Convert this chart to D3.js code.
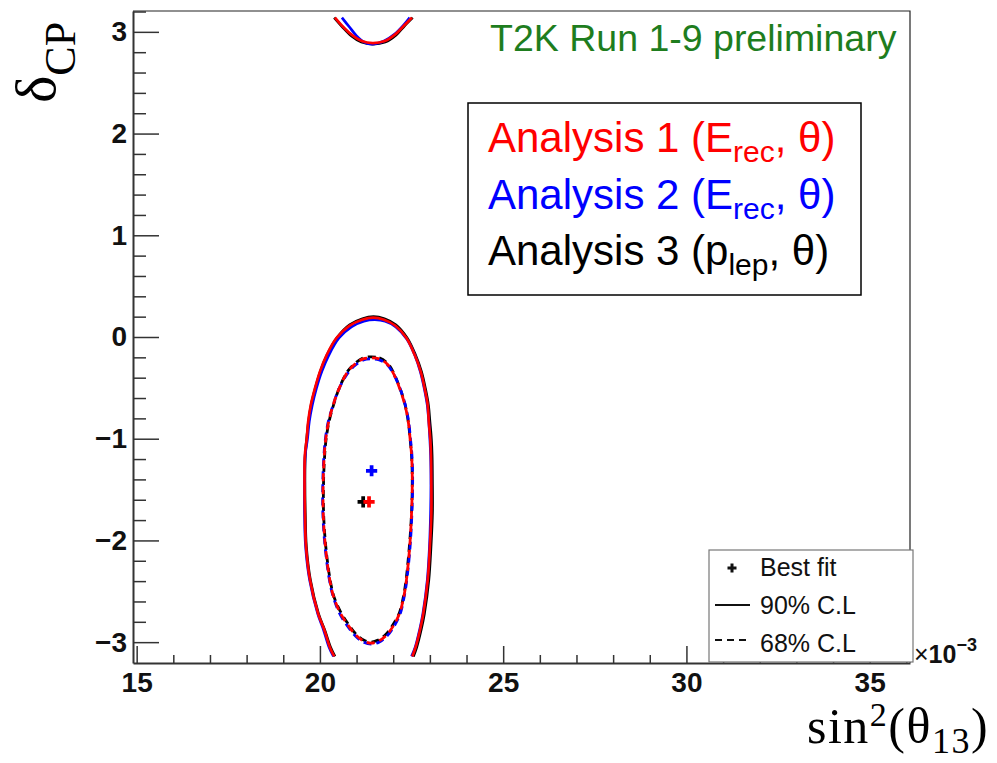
<!DOCTYPE html>
<html>
<head>
<meta charset="utf-8">
<script src="https://cdn.jsdelivr.net/npm/d3@7"></script>
<style>
  body { margin: 0; background: #fff; }
  svg { display: block; }
</style>
</head>
<body>
<div id="chart"></div>
<script>
// axis ranges (sin^2 theta13 in units of 1e-3, delta_CP in rad)
const xDomain = [14.9, 36.1];
const yDomain = [-3.205, 3.205];
const xMajor = [15, 20, 25, 30, 35];
const yMajor = [-3, -2, -1, 0, 1, 2, 3];

const analyses = ['Analysis 3', 'Analysis 2', 'Analysis 1']; // drawing order
const colors = { 'Analysis 1': '#ff0000', 'Analysis 2': '#0000ff', 'Analysis 3': '#000000' };

// 90% C.L. contours, main piece (open at delta = -pi)
const a1Outer = [[20.39,-3.14],[20.27,-3.05],[20.12,-2.88],[19.95,-2.72],[19.73,-2.39],[19.62,-2.06],[19.59,-1.73],[19.58,-1.40],[19.59,-1.16],[19.64,-1.00],[19.68,-0.83],[19.75,-0.67],[19.86,-0.51],[20.00,-0.34],[20.18,-0.18],[20.45,-0.01],[20.80,0.11],[21.15,0.17],[21.45,0.19],[21.75,0.17],[22.06,0.11],[22.36,-0.01],[22.59,-0.18],[22.75,-0.34],[22.86,-0.51],[22.94,-0.67],[22.97,-0.83],[23.01,-1.00],[23.03,-1.16],[23.04,-1.46],[23.04,-1.73],[23.00,-2.06],[22.94,-2.39],[22.82,-2.72],[22.73,-2.88],[22.61,-3.05],[22.52,-3.14]];
const a2Outer = [[20.37,-3.14],[20.25,-3.05],[20.10,-2.88],[19.94,-2.72],[19.72,-2.39],[19.61,-2.06],[19.58,-1.73],[19.58,-1.40],[19.60,-1.16],[19.66,-1.00],[19.71,-0.83],[19.79,-0.67],[19.90,-0.51],[20.05,-0.34],[20.24,-0.18],[20.52,-0.01],[20.86,0.10],[21.20,0.155],[21.50,0.17],[21.78,0.155],[22.07,0.10],[22.37,-0.02],[22.59,-0.18],[22.74,-0.34],[22.85,-0.51],[22.93,-0.67],[22.97,-0.83],[23.00,-1.00],[23.02,-1.16],[23.03,-1.46],[23.02,-1.73],[22.99,-2.06],[22.93,-2.39],[22.81,-2.72],[22.72,-2.88],[22.60,-3.05],[22.50,-3.14]];
const a3Outer = [[20.41,-3.14],[20.29,-3.05],[20.13,-2.88],[19.96,-2.72],[19.74,-2.39],[19.63,-2.06],[19.60,-1.73],[19.59,-1.40],[19.60,-1.16],[19.64,-1.00],[19.69,-0.83],[19.76,-0.67],[19.87,-0.51],[20.01,-0.34],[20.19,-0.18],[20.46,-0.01],[20.81,0.12],[21.16,0.18],[21.46,0.20],[21.76,0.18],[22.07,0.12],[22.38,-0.01],[22.61,-0.18],[22.77,-0.34],[22.88,-0.51],[22.96,-0.67],[23.00,-0.83],[23.04,-1.00],[23.06,-1.16],[23.07,-1.46],[23.07,-1.73],[23.03,-2.06],[22.97,-2.39],[22.85,-2.72],[22.76,-2.88],[22.64,-3.05],[22.55,-3.14]];

// 90% C.L. contours, piece wrapped around to delta = +pi
const a1Wrap = [[20.41,3.14],[20.63,3.05],[20.87,2.97],[21.14,2.91],[21.44,2.89],[21.77,2.91],[22.07,2.98],[22.29,3.06],[22.51,3.14]];
const a2Wrap = [[20.60,3.14],[20.80,3.05],[21.00,2.96],[21.20,2.90],[21.42,2.88],[21.75,2.91],[22.05,2.98],[22.27,3.06],[22.45,3.14]];
const a3Wrap = [[20.39,3.14],[20.61,3.05],[20.86,2.96],[21.13,2.90],[21.44,2.88],[21.78,2.90],[22.08,2.97],[22.31,3.06],[22.53,3.14]];

// 68% C.L. contours (closed)
const a1Inner = [[21.40,-0.205],[21.62,-0.215],[21.82,-0.26],[21.98,-0.34],[22.18,-0.51],[22.32,-0.67],[22.41,-0.83],[22.46,-1.00],[22.50,-1.16],[22.52,-1.39],[22.50,-1.73],[22.45,-2.06],[22.36,-2.39],[22.29,-2.55],[22.18,-2.71],[22.02,-2.83],[21.82,-2.93],[21.60,-2.99],[21.40,-3.01],[21.20,-2.99],[20.98,-2.93],[20.76,-2.83],[20.55,-2.71],[20.37,-2.55],[20.27,-2.39],[20.15,-2.06],[20.09,-1.73],[20.09,-1.41],[20.12,-1.16],[20.16,-1.00],[20.24,-0.83],[20.36,-0.67],[20.52,-0.51],[20.76,-0.34],[20.98,-0.26],[21.18,-0.215]];
const a2Inner = [[21.40,-0.215],[21.62,-0.225],[21.83,-0.27],[21.99,-0.35],[22.19,-0.51],[22.33,-0.67],[22.42,-0.83],[22.47,-1.00],[22.51,-1.16],[22.53,-1.39],[22.51,-1.73],[22.46,-2.06],[22.37,-2.39],[22.30,-2.55],[22.19,-2.72],[22.03,-2.84],[21.83,-2.94],[21.61,-3.00],[21.40,-3.02],[21.19,-3.00],[20.97,-2.94],[20.75,-2.84],[20.54,-2.72],[20.36,-2.55],[20.26,-2.39],[20.14,-2.06],[20.08,-1.73],[20.08,-1.41],[20.11,-1.16],[20.15,-1.00],[20.23,-0.83],[20.36,-0.67],[20.52,-0.51],[20.77,-0.35],[20.99,-0.27],[21.19,-0.225]];
const a3Inner = [[21.40,-0.195],[21.62,-0.205],[21.82,-0.25],[21.98,-0.33],[22.18,-0.50],[22.32,-0.66],[22.41,-0.83],[22.46,-1.00],[22.50,-1.16],[22.52,-1.40],[22.50,-1.73],[22.44,-2.06],[22.35,-2.39],[22.28,-2.55],[22.17,-2.71],[22.01,-2.82],[21.81,-2.92],[21.59,-2.98],[21.39,-3.00],[21.19,-2.98],[20.98,-2.92],[20.77,-2.82],[20.56,-2.70],[20.38,-2.55],[20.28,-2.39],[20.16,-2.06],[20.10,-1.73],[20.10,-1.41],[20.13,-1.16],[20.17,-1.00],[20.25,-0.83],[20.37,-0.67],[20.53,-0.50],[20.77,-0.33],[20.99,-0.25],[21.19,-0.205]];

// best fit points
const bestFit = [
  { name: 'Analysis 3', x: 21.18, y: -1.62 },
  { name: 'Analysis 2', x: 21.41, y: -1.315 },
  { name: 'Analysis 1', x: 21.34, y: -1.62 }
];

const contours = {
  'Analysis 1': { outer: a1Outer, wrap: a1Wrap, inner: a1Inner },
  'Analysis 2': { outer: a2Outer, wrap: a2Wrap, inner: a2Inner },
  'Analysis 3': { outer: a3Outer, wrap: a3Wrap, inner: a3Inner }
};

const width = 997, height = 763;
const plot = { left: 133, right: 910, top: 11, bottom: 663 };

const svg = d3.select('#chart').append('svg')
  .attr('width', width)
  .attr('height', height);

const x = d3.scaleLinear().domain(xDomain).range([plot.left, plot.right]);
const y = d3.scaleLinear().domain(yDomain).range([plot.bottom, plot.top]);

// frame (top and right)
svg.append('path')
  .attr('d', `M${plot.left},${plot.top}H${plot.right}V${plot.bottom}`)
  .attr('fill', 'none')
  .attr('stroke', '#222')
  .attr('stroke-width', 1.2);

// contours
const line = d3.line().x(d => x(d[0])).y(d => y(d[1])).curve(d3.curveCatmullRom);
const closedLine = d3.line().x(d => x(d[0])).y(d => y(d[1])).curve(d3.curveCatmullRomClosed);

const gc = svg.append('g');
analyses.forEach((name, i) => {
  const c = contours[name];
  [c.outer, c.wrap].forEach(pts => {
    gc.append('path')
      .attr('d', line(pts))
      .attr('fill', 'none')
      .attr('stroke', colors[name])
      .attr('stroke-width', 2.7);
  });
  gc.append('path')
    .attr('d', closedLine(c.inner))
    .attr('fill', 'none')
    .attr('stroke', colors[name])
    .attr('stroke-width', 2.8)
    .attr('stroke-dasharray', '8,5')
    .attr('stroke-dashoffset', i * 4);
});

// best fit markers
const plus = d3.symbol().type(d3.symbolCross).size(70);
svg.append('g').selectAll('path')
  .data(bestFit)
  .join('path')
  .attr('transform', d => `translate(${x(d.x)},${y(d.y)})`)
  .attr('d', plus)
  .attr('fill', d => colors[d.name]);

// axes
const tickFont = g => g.selectAll('text')
  .style('font-family', '"Liberation Sans", Arial, sans-serif')
  .style('font-weight', 'bold')
  .style('font-size', '28px')
  .attr('fill', '#111');

const fmt = d => d < 0 ? '\u2212' + Math.abs(d) : String(d);

// y axis
svg.append('g')
  .attr('transform', `translate(${plot.left},0)`)
  .call(d3.axisLeft(y).tickValues(d3.range(-3, 3.21, 0.2).filter(v => Math.abs(v - Math.round(v)) > 0.01))
    .tickSize(-13).tickSizeOuter(0).tickFormat(''))
  .call(g => g.select('.domain').remove())
  .call(g => g.selectAll('line').attr('stroke', '#333').attr('stroke-width', 1.5));

svg.append('g')
  .attr('transform', `translate(${plot.left},0)`)
  .call(d3.axisLeft(y).tickValues(yMajor).tickSize(-26).tickSizeOuter(0).tickPadding(6).tickFormat(fmt))
  .call(g => g.select('.domain').attr('stroke', '#333').attr('stroke-width', 2))
  .call(g => g.selectAll('line').attr('stroke', '#333').attr('stroke-width', 1.5))
  .call(tickFont);

// x axis
svg.append('g')
  .attr('transform', `translate(0,${plot.bottom})`)
  .call(d3.axisBottom(x).tickValues(d3.range(16, 37, 1).filter(v => v % 5 !== 0))
    .tickSize(-8).tickSizeOuter(0).tickFormat(''))
  .call(g => g.select('.domain').remove())
  .call(g => g.selectAll('line').attr('stroke', '#333').attr('stroke-width', 1.5));

svg.append('g')
  .attr('transform', `translate(0,${plot.bottom})`)
  .call(d3.axisBottom(x).tickValues(xMajor).tickSize(-17).tickSizeOuter(0).tickPadding(9).tickFormat(fmt))
  .call(g => g.select('.domain').attr('stroke', '#333').attr('stroke-width', 2))
  .call(g => g.selectAll('line').attr('stroke', '#333').attr('stroke-width', 1.5))
  .call(tickFont);

// x10^-3 exponent
const ex = svg.append('text')
  .attr('x', 914).attr('y', 663)
  .style('font-family', '"Liberation Sans", Arial, sans-serif')
  .style('font-size', '25px')
  .attr('fill', '#111');
ex.append('tspan').text('\u00d7');
ex.append('tspan').style('font-weight', 'bold').text('10');
ex.append('tspan').style('font-weight', 'bold').style('font-size', '18px').attr('dy', -12).text('\u22123');

// axis titles
const xt = svg.append('text')
  .attr('x', 807).attr('y', 743)
  .style('font-family', '"Liberation Serif", "Times New Roman", serif')
  .style('font-size', '50px')
  .style('letter-spacing', '1.5px')
  .attr('fill', '#000');
xt.append('tspan').text('sin');
xt.append('tspan').style('font-size', '34px').attr('dy', -17).text('2');
xt.append('tspan').attr('dy', 17).text('(\u03b8');
xt.append('tspan').style('font-size', '36px').attr('dy', 10).text('13');
xt.append('tspan').attr('dy', -10).text(')');

const yt = svg.append('text')
  .attr('transform', 'translate(55,103) rotate(-90)')
  .style('font-family', '"Liberation Serif", "Times New Roman", serif')
  .style('font-size', '58px')
  .attr('fill', '#000');
yt.append('tspan').text('\u03b4');
yt.append('tspan').style('font-size', '44px').attr('dy', 20).text('CP');

// preliminary label
svg.append('text')
  .attr('x', 490).attr('y', 51)
  .style('font-family', '"Liberation Sans", Arial, sans-serif')
  .style('font-size', '37.5px')
  .attr('fill', '#1e7d1e')
  .text('T2K Run 1-9 preliminary');

// analysis legend
svg.append('rect')
  .attr('x', 468).attr('y', 103).attr('width', 393).attr('height', 192)
  .attr('fill', '#fff').attr('stroke', '#000').attr('stroke-width', 1.5);

const legendLines = [
  { name: 'Analysis 1', label: 'Analysis 1 (E', sub: 'rec', tail: ', \u03b8)' },
  { name: 'Analysis 2', label: 'Analysis 2 (E', sub: 'rec', tail: ', \u03b8)' },
  { name: 'Analysis 3', label: 'Analysis 3 (p', sub: 'lep', tail: ', \u03b8)' }
];
legendLines.forEach((d, i) => {
  const t = svg.append('text')
    .attr('x', 488).attr('y', 152 + i * 56.6)
    .style('font-family', '"Liberation Sans", Arial, sans-serif')
    .style('font-size', '42px')
    .attr('fill', colors[d.name]);
  t.append('tspan').text(d.label);
  t.append('tspan').style('font-size', '30px').attr('dy', 10).text(d.sub);
  t.append('tspan').attr('dy', -10).text(d.tail);
});

// C.L. legend
const lg = svg.append('g');
lg.append('rect')
  .attr('x', 709).attr('y', 550).attr('width', 204).attr('height', 112)
  .attr('fill', '#fff').attr('stroke', '#777').attr('stroke-width', 1.2);
lg.append('path')
  .attr('transform', 'translate(732,568)')
  .attr('d', d3.symbol().type(d3.symbolCross).size(45))
  .attr('fill', '#111');
lg.append('line').attr('x1', 715).attr('x2', 750).attr('y1', 605).attr('y2', 605)
  .attr('stroke', '#111').attr('stroke-width', 2);
lg.append('line').attr('x1', 715).attr('x2', 750).attr('y1', 640).attr('y2', 640)
  .attr('stroke', '#111').attr('stroke-width', 2).attr('stroke-dasharray', '7,5');
['Best fit', '90% C.L', '68% C.L'].forEach((s, i) => {
  lg.append('text')
    .attr('x', 760).attr('y', 576 + i * 38)
    .style('font-family', '"Liberation Sans", Arial, sans-serif')
    .style('font-size', '25px')
    .attr('fill', '#111')
    .text(s);
});
</script>
</body>
</html>
